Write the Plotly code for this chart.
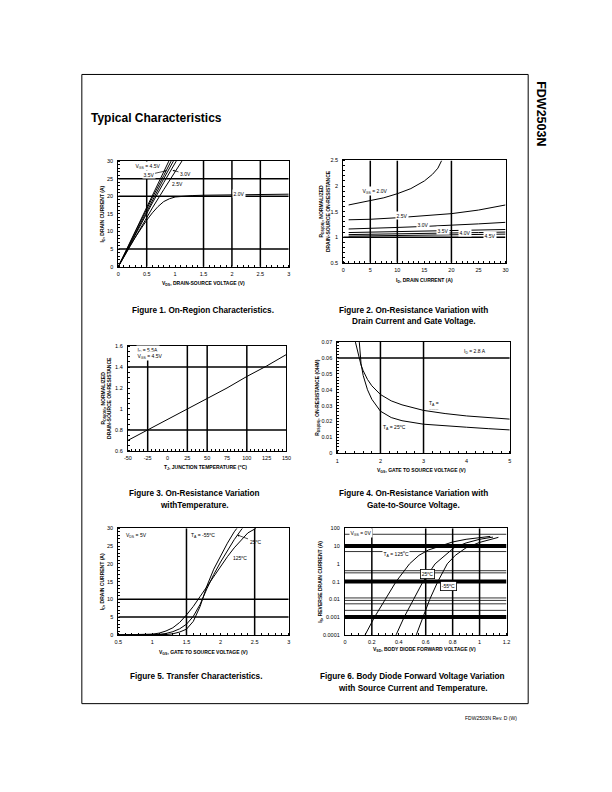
import plotly.graph_objects as go

W, H = 612, 792


def px(x):
    return x / W


def py(y):
    return 1 - y / H


# ---------------- data ----------------
# Figure 1: I_D vs V_DS for several V_GS
f1_vds_45 = [0, 0.2, 0.4, 0.6, 0.8, 0.89]
f1_id_45 = [0, 6.8, 13.6, 20.3, 27.0, 30]
f1_vds_40 = [0, 0.2, 0.4, 0.6, 0.8, 0.93]
f1_id_40 = [0, 6.6, 13.1, 19.6, 25.9, 30]
f1_vds_35 = [0, 0.2, 0.4, 0.6, 0.8, 0.97]
f1_id_35 = [0, 6.3, 12.7, 18.9, 25.0, 30]
f1_vds_30 = [0, 0.2, 0.4, 0.6, 0.8, 1.02]
f1_id_30 = [0, 6.1, 12.2, 18.1, 23.9, 30]
f1_vds_25 = [0, 0.2, 0.4, 0.6, 0.8, 1.0, 1.12]
f1_id_25 = [0, 5.7, 11.3, 16.7, 21.9, 27.0, 30]
f1_vds_20 = [0, 0.1, 0.2, 0.3, 0.4, 0.5, 0.6, 0.7, 0.8, 0.9, 1.0, 1.1, 1.3, 1.5, 2.0, 2.5, 3.0]
f1_id_20 = [0, 3.0, 5.8, 8.4, 10.9, 13.2, 15.3, 17.1, 18.5, 19.3, 19.8, 20.0, 20.2, 20.3, 20.4, 20.5, 20.6]
f1_vgrid = [0.5, 1.5, 2, 2.5]
f1_hgrid = [5, 20, 25]

# Figure 2: normalized R_DS(on) vs I_D
f2_id_20 = [1, 3, 5, 7.5, 10, 12.5, 15, 16.5, 17.5, 18.2]
f2_r_20 = [1.63, 1.67, 1.71, 1.77, 1.85, 1.95, 2.10, 2.23, 2.35, 2.5]
f2_id = [1, 5, 10, 15, 20, 25, 30]
f2_r_25 = [1.34, 1.35, 1.38, 1.42, 1.46, 1.53, 1.63]
f2_r_30 = [1.16, 1.17, 1.19, 1.21, 1.23, 1.26, 1.29]
f2_r_35 = [1.09, 1.10, 1.11, 1.12, 1.13, 1.14, 1.15]
f2_r_40 = [1.05, 1.055, 1.06, 1.07, 1.08, 1.09, 1.10]
f2_r_45 = [1.02, 1.025, 1.03, 1.035, 1.04, 1.05, 1.06]
f2_vgrid = [5, 10, 20]
f2_hgrid = [1]

# Figure 3: normalized R_DS(on) vs junction temperature
f3_tj = [-50, -25, 0, 25, 50, 75, 100, 125, 150]
f3_r = [0.70, 0.80, 0.90, 1.00, 1.10, 1.20, 1.31, 1.41, 1.52]
f3_vgrid = [-25, 25, 50, 100]
f3_hgrid = [0.8, 1.4]

# Figure 4: R_DS(on) vs V_GS
f4_vgs_125 = [1.42, 1.46, 1.5, 1.55, 1.6, 1.7, 1.8, 2.0, 2.25, 2.5, 3, 3.5, 4, 4.5, 5]
f4_r_125 = [0.07, 0.065, 0.06, 0.0555, 0.052, 0.0465, 0.0425, 0.037, 0.033, 0.0305, 0.027, 0.025, 0.0235, 0.0225, 0.0215]
f4_vgs_25 = [1.51, 1.53, 1.55, 1.6, 1.7, 1.8, 2.0, 2.25, 2.5, 3, 3.5, 4, 4.5, 5]
f4_r_25 = [0.07, 0.062, 0.0565, 0.049, 0.040, 0.034, 0.0265, 0.0225, 0.0205, 0.0183, 0.0172, 0.0164, 0.0155, 0.0147]
f4_vgrid = [2, 3]
f4_hgrid = [0.06]

# Figure 5: transfer characteristics
f5_vgs_m55 = [0.5, 1.0, 1.1, 1.2, 1.3, 1.4, 1.5, 1.6, 1.7, 1.8, 1.9, 2.0, 2.1, 2.2, 2.24]
f5_id_m55 = [0, 0, 0.02, 0.1, 0.3, 0.8, 1.6, 3.8, 8.0, 13.8, 18.5, 22.3, 25.8, 29.0, 30]
f5_vgs_25 = [0.5, 0.9, 1.0, 1.1, 1.2, 1.3, 1.4, 1.5, 1.6, 1.7, 1.8, 1.9, 2.0, 2.1, 2.2, 2.3, 2.32]
f5_id_25 = [0, 0, 0.05, 0.15, 0.4, 0.9, 1.7, 3.0, 5.2, 8.6, 13.0, 17.0, 20.5, 23.8, 26.8, 29.5, 30]
f5_vgs_125 = [0.5, 0.8, 0.9, 1.0, 1.1, 1.2, 1.3, 1.4, 1.5, 1.6, 1.7, 1.8, 1.9, 2.0, 2.1, 2.2, 2.3, 2.4, 2.52]
f5_id_125 = [0, 0.02, 0.05, 0.2, 0.5, 1.1, 2.0, 3.5, 5.6, 8.0, 10.8, 13.6, 16.6, 19.4, 22.0, 24.5, 26.7, 28.7, 30]
f5_vgrid = [1.5, 2.5]
f5_hgrid = [5, 10]

# Figure 6: body diode forward voltage
f6_vsd_125 = [0.15, 0.22, 0.30, 0.38, 0.48, 0.55, 0.62, 0.71, 0.8, 0.9, 1.0, 1.08]
f6_is_125 = [1e-4, 1e-3, 1e-2, 0.1, 1, 3, 6, 10, 17, 24, 30, 35]
f6_vsd_25 = [0.38, 0.44, 0.51, 0.58, 0.67, 0.74, 0.81, 0.9, 1.0, 1.1]
f6_is_25 = [1e-4, 1e-3, 1e-2, 0.1, 1, 3, 8, 15, 24, 32]
f6_vsd_m55 = [0.53, 0.58, 0.63, 0.69, 0.76, 0.82, 0.9, 1.0, 1.1, 1.14]
f6_is_m55 = [1e-4, 1e-3, 1e-2, 0.1, 1, 3, 8, 16, 27, 31]
f6_vgrid = [0.2, 0.6, 0.8, 1.0]
f6_hgrid_thick = [10, 0.1, 0.001]
f6_hgrid_thin = [46, 4.9, 0.41, 0.31, 0.012, 0.0087, 0.0056, 0.0024]

# tick labels
f1_xticks = [0, 0.5, 1, 1.5, 2, 2.5, 3]
f1_xlabels = ["0", "0.5", "1", "1.5", "2", "2.5", "3"]
f1_yticks = [0, 5, 10, 15, 20, 25, 30]
f2_xticks = [0, 5, 10, 15, 20, 25, 30]
f2_yticks = [0.5, 1, 1.5, 2, 2.5]
f2_ylabels = ["0.5", "1", "1.5", "2", "2.5"]
f3_xticks = [-50, -25, 0, 25, 50, 75, 100, 125, 150]
f3_yticks = [0.6, 0.8, 1.0, 1.2, 1.4, 1.6]
f3_ylabels = ["0.6", "0.8", "1", "1.2", "1.4", "1.6"]
f4_xticks = [1, 2, 3, 4, 5]
f4_yticks = [0, 0.01, 0.02, 0.03, 0.04, 0.05, 0.06, 0.07]
f4_ylabels = ["0", "0.01", "0.02", "0.03", "0.04", "0.05", "0.06", "0.07"]
f5_xticks = [0.5, 1, 1.5, 2, 2.5, 3]
f5_xlabels = ["0.5", "1", "1.5", "2", "2.5", "3"]
f5_yticks = [0, 5, 10, 15, 20, 25, 30]
f6_xticks = [0, 0.2, 0.4, 0.6, 0.8, 1.0, 1.2]
f6_xlabels = ["0", "0.2", "0.4", "0.6", "0.8", "1", "1.2"]
f6_yticks = [1e-4, 1e-3, 1e-2, 0.1, 1, 10, 100]
f6_ylabels = ["0.0001", "0.001", "0.01", "0.1", "1", "10", "100"]

FONT = "Liberation Sans"
fig = go.Figure()


def curve(x, y, ax, width=1.0):
    fig.add_trace(go.Scatter(x=x, y=y, mode="lines", line=dict(color="black", width=width),
                             xaxis="x" + ax, yaxis="y" + ax, hoverinfo="skip", showlegend=False))


def grid(vvals, hvals, xr, yr, ax, width=1.5):
    xs, ys = [], []
    for v in vvals:
        xs += [v, v, None]
        ys += [yr[0], yr[1], None]
    for h in hvals:
        xs += [xr[0], xr[1], None]
        ys += [h, h, None]
    curve(xs, ys, ax, width)


def axis_pair(n, box, xr, yr, xt, xl, yt, yl, xminor, yminor, ylog=False):
    x0, y0, x1, y1 = box
    sfx = "" if n == 1 else str(n)
    tf = dict(family=FONT, size=5.5, color="black")
    xa = dict(domain=[px(x0), px(x1)], range=xr, anchor="y" + sfx, tickvals=xt, ticktext=xl,
              showgrid=False, zeroline=False, showline=True, mirror=True, linecolor="black",
              linewidth=1, ticks="", tickfont=tf, ticklabelstandoff=2,
              minor=dict(ticks="inside", ticklen=2, tickcolor="black", dtick=xminor, tickwidth=0.6),
              fixedrange=True)
    ya = dict(domain=[py(y1), py(y0)], anchor="x" + sfx, tickvals=yt, ticktext=yl,
              showgrid=False, zeroline=False, showline=True, mirror=True, linecolor="black",
              linewidth=1, ticks="", tickfont=tf, ticklabelstandoff=3, fixedrange=True)
    if ylog:
        ya.update(type="log", range=yr)
    else:
        ya.update(range=yr, minor=dict(ticks="inside", ticklen=2, tickcolor="black",
                                       dtick=yminor, tickwidth=0.6))
    return {"xaxis" + sfx: xa, "yaxis" + sfx: ya}


layout_axes = {}
layout_axes.update(axis_pair(1, (116, 159.3, 289, 265.7), [0, 3], [0, 30], f1_xticks, f1_xlabels,
                             f1_yticks, [str(v) for v in f1_yticks], 0.1, 1))
layout_axes.update(axis_pair(2, (344.3, 158.7, 509, 261.7), [0, 30], [0.5, 2.5], f2_xticks,
                             [str(v) for v in f2_xticks], f2_yticks, f2_ylabels, 1, 0.1))
layout_axes.update(axis_pair(3, (125.7, 345.7, 286.7, 451.3), [-50, 150], [0.6, 1.6], f3_xticks,
                             [str(v) for v in f3_xticks], f3_yticks, f3_ylabels, 5, 0.05))
layout_axes.update(axis_pair(4, (338.3, 341.7, 513.3, 453.7), [1, 5], [0, 0.07], f4_xticks,
                             [str(v) for v in f4_xticks], f4_yticks, f4_ylabels, 0.2, 0.002))
layout_axes.update(axis_pair(5, (116, 529.3, 289, 636.7), [0.5, 3], [0, 30], f5_xticks, f5_xlabels,
                             f5_yticks, [str(v) for v in f5_yticks], 0.1, 1))
layout_axes.update(axis_pair(6, (346, 529.3, 510, 636.7), [0, 1.2], [-4, 2], f6_xticks, f6_xlabels,
                             f6_yticks, f6_ylabels, 0.05, None, ylog=True))

# gridlines
grid(f1_vgrid, f1_hgrid, [0, 3], [0, 30], "")
grid(f2_vgrid, f2_hgrid, [0, 30], [0.5, 2.5], "2")
grid(f3_vgrid, f3_hgrid, [-50, 150], [0.6, 1.6], "3")
grid(f4_vgrid, f4_hgrid, [1, 5], [0, 0.07], "4")
grid(f5_vgrid, f5_hgrid, [0.5, 3], [0, 30], "5")
grid(f6_vgrid, [], [0, 1.2], [1e-4, 100], "6")
grid([], f6_hgrid_thick, [0, 1.2], [1e-4, 100], "6", width=4)
grid([], f6_hgrid_thin, [0, 1.2], [1e-4, 100], "6", width=0.8)

# curves
for xs, ys in [(f1_vds_45, f1_id_45), (f1_vds_40, f1_id_40), (f1_vds_35, f1_id_35),
               (f1_vds_30, f1_id_30), (f1_vds_25, f1_id_25), (f1_vds_20, f1_id_20)]:
    curve(xs, ys, "")
curve(f2_id_20, f2_r_20, "2")
for ys in [f2_r_25, f2_r_30, f2_r_35, f2_r_40, f2_r_45]:
    curve(f2_id, ys, "2")
curve(f3_tj, f3_r, "3")
curve(f4_vgs_125, f4_r_125, "4")
curve(f4_vgs_25, f4_r_25, "4")
curve(f5_vgs_m55, f5_id_m55, "5")
curve(f5_vgs_25, f5_id_25, "5")
curve(f5_vgs_125, f5_id_125, "5")
curve(f6_vsd_125, f6_is_125, "6")
curve(f6_vsd_25, f6_is_25, "6")
curve(f6_vsd_m55, f6_is_m55, "6")

ann = []


def text(x, y, t, size=5, bold=False, xanchor="center", angle=0, bg=None, border=None):
    a = dict(x=px(x), y=py(y), xref="paper", yref="paper", text=("<b>%s</b>" % t) if bold else t,
             showarrow=False, xanchor=xanchor, yanchor="middle", textangle=angle,
             font=dict(family=FONT, size=size, color="black"), borderpad=0)
    if bg:
        a.update(bgcolor=bg, borderpad=0.5)
    if border:
        a.update(bordercolor=border, borderwidth=0.8, borderpad=1)
    ann.append(a)


def arrow_text(tipx, tipy, tx, ty, t, size=5, bg=None):
    a = dict(x=px(tipx), y=py(tipy), xref="paper", yref="paper", text=t, showarrow=True,
             ax=tx - tipx, ay=ty - tipy, arrowhead=2, arrowsize=0.6, arrowwidth=0.7,
             arrowcolor="black", font=dict(family=FONT, size=size, color="black"))
    if bg:
        a.update(bgcolor=bg, borderpad=0.5)
    ann.append(a)


# page texts
text(87, 116, "Typical Characteristics", size=12, bold=True, xanchor="left")
text(545, 112, "FDW2503N", size=12.5, bold=True, angle=90)
text(522, 720, "FDW2503N Rev. D (W)", size=5, xanchor="right")

CAP = 8.2

# figure 1 labels
text(146, 164, "V<sub>GS</sub> = 4.5V", bg="white")
arrow_text(165, 169, 147, 173, "3.5V", bg="white")
arrow_text(171, 168.5, 184, 172, "3.0V")
text(176, 182.7, "2.5V")
text(238.5, 192.3, "2.0V", bg="white")
text(202.5, 283, "V<sub>DS</sub>, DRAIN-SOURCE VOLTAGE (V)", bold=True)
text(100, 212.5, "I<sub>D</sub>, DRAIN CURRENT (A)", bold=True, angle=-90)
text(202, 309.5, "Figure 1. On-Region Characteristics.", size=CAP, bold=True)

# figure 2 labels
text(376.5, 189.3, "V<sub>GS</sub> = 2.0V", bg="white")
text(404, 214.3, "2.5V", bg="white")
text(425, 222.7, "3.0V", bg="white")
text(445.5, 229.3, "3.5V", bg="white")
text(468, 231.5, "4.0V", bg="white")
text(493, 234, "4.5V", bg="white")
text(427, 280, "I<sub>D</sub>, DRAIN CURRENT (A)", bold=True)
text(325.5, 210, "R<sub>DS(ON)</sub>, NORMALIZED<br>DRAIN-SOURCE ON-RESISTANCE", bold=True, angle=-90)
text(416, 309.5, "Figure 2. On-Resistance Variation with", size=CAP, bold=True)
text(416, 321, "Drain Current and Gate Voltage.", size=CAP, bold=True)

# figure 3 labels
text(134, 350, "I<sub>D</sub> = 5.5A", xanchor="left", bg="white")
text(134, 356, "V<sub>GS</sub> = 4.5V", xanchor="left", bg="white")
text(205, 468, "T<sub>J</sub>, JUNCTION TEMPERATURE (<sup>o</sup>C)", bold=True)
text(104.5, 398, "R<sub>DS(ON)</sub>, NORMALIZED<br>DRAIN-SOURCE ON-RESISTANCE", bold=True, angle=-90)
text(193, 494, "Figure 3. On-Resistance Variation", size=CAP, bold=True)
text(193, 506, "withTemperature.", size=CAP, bold=True)

# figure 4 labels
text(478, 351, "I<sub>D</sub> = 2.8 A")
text(430, 403.3, "T<sub>A</sub> =", xanchor="left")
text(430, 409, "-------", size=4, xanchor="left")
text(384, 427.7, "T<sub>A</sub> = 25<sup>o</sup>C", xanchor="left")
text(424, 471, "V<sub>GS</sub>, GATE TO SOURCE VOLTAGE (V)", bold=True)
text(318, 397.5, "R<sub>DS(ON)</sub>, ON-RESISTANCE (OHM)", bold=True, angle=-90)
text(416, 494, "Figure 4. On-Resistance Variation with", size=CAP, bold=True)
text(416, 506, "Gate-to-Source Voltage.", size=CAP, bold=True)

# figure 5 labels
text(123, 536.7, "V<sub>DS</sub> = 5V", xanchor="left")
text(189, 536.7, "T<sub>A</sub> = -55<sup>o</sup>C", xanchor="left")
arrow_text(236.7, 536, 255, 542.7, "25<sup>o</sup>C")
text(240, 559, "125<sup>o</sup>C")
text(202, 654, "V<sub>GS</sub>, GATE TO SOURCE VOLTAGE (V)", bold=True)
text(100, 583, "I<sub>D</sub>, DRAIN CURRENT (A)", bold=True, angle=-90)
text(195, 679, "Figure 5. Transfer Characteristics.", size=CAP, bold=True)

# figure 6 labels
text(362, 534, "V<sub>GS</sub> = 0V", bg="white")
text(397.5, 555, "T<sub>A</sub> = 125<sup>o</sup>C", bg="white")
text(430, 575, "25<sup>o</sup>C", bg="white", border="black")
text(451, 587.3, "-55<sup>o</sup>C", bg="white", border="black")
text(427, 651, "V<sub>SD</sub>, BODY DIODE FORWARD VOLTAGE (V)", bold=True)
text(321, 583, "I<sub>S</sub>, REVERSE DRAIN CURRENT (A)", bold=True, angle=-90)
text(415, 679, "Figure 6. Body Diode Forward Voltage Variation", size=CAP, bold=True)
text(415, 691, "with Source Current and Temperature.", size=CAP, bold=True)

shapes = [dict(type="rect", xref="paper", yref="paper", x0=px(79), x1=px(532), y0=py(706), y1=py(72),
               line=dict(color="black", width=1))]

fig.update_layout(width=W, height=H, margin=dict(l=0, r=0, t=0, b=0), paper_bgcolor="white",
                  plot_bgcolor="white", showlegend=False, annotations=ann, shapes=shapes,
                  font=dict(family=FONT, color="black"), **layout_axes)

fig.write_html("out.html", config={"displayModeBar": False})
